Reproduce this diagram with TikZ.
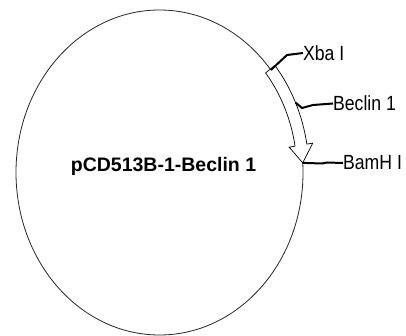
\documentclass[tikz,border=0pt]{standalone}
\usepackage{fontspec}
\setmainfont{Liberation Sans}
\begin{document}
\begin{tikzpicture}[x=1pt,y=-1pt,
  outline/.style={draw=black!85,line width=0.8pt},
  leader/.style={draw=black,line width=2pt},
  lbl/.style={anchor=west,inner sep=0pt,xscale=0.86,font=\fontsize{20.5}{22}\selectfont},
  title/.style={inner sep=0pt,font=\fontsize{19.5}{22}\selectfont\bfseries}]
\useasboundingbox (0,0) rectangle (406,336);
\fill[white] (0,0) rectangle (406,336);
% plasmid
\draw[outline] (159.5,172.5) ellipse [x radius=143.5, y radius=162.5];
% insert arrow (Beclin 1), from Xba I to BamH I
\def\cx{159.5}\def\cy{172.5}\def\rx{143.5}\def\ry{162.5}
\filldraw[fill=white,draw=black,line width=0.7pt]
  plot[domain=39.5:9.7,samples=30] ({\cx+(\rx+6)*cos(\x)},{\cy-(\ry+6)*sin(\x)})
  -- ({\cx+(\rx+12)*cos(9.7)},{\cy-(\ry+12)*sin(9.7)})
  -- ({\cx+\rx*cos(3.4)},{\cy-\ry*sin(3.4)})
  -- ({\cx+(\rx-12)*cos(9.7)},{\cy-(\ry-12)*sin(9.7)})
  -- ({\cx+(\rx-6)*cos(9.7)},{\cy-(\ry-6)*sin(9.7)})
  -- plot[domain=9.7:39.5,samples=30] ({\cx+(\rx-6)*cos(\x)},{\cy-(\ry-6)*sin(\x)})
  -- cycle;
% sites
\coordinate (xbasite) at ({\cx+\rx*cos(39.1)},{\cy-\ry*sin(39.1)});
\coordinate (becsite) at ({\cx+(\rx+6)*cos(24.5)},{\cy-(\ry+6)*sin(24.5)});
\coordinate (bamsite) at ({\cx+\rx*cos(3.4)},{\cy-\ry*sin(3.4)});
% labels
\node[title] (name) at (163.5,166) {pCD513B-1-Beclin 1};
\node[lbl] (xba) at (303,53) {Xba I};
\node[lbl] (bec) at (333,103.5) {Beclin 1};
\node[lbl] (bam) at (343,163) {BamH I};
% leaders
\draw[leader] (xbasite) -- (287,55) -- (xba.west);
\draw[leader] (becsite) -- (302,108) -- (313,105) -- (bec.west);
\draw[leader] (bamsite) -- (322,163.5) -- (327,162.5) -- (bam.west);
\end{tikzpicture}
\end{document}
